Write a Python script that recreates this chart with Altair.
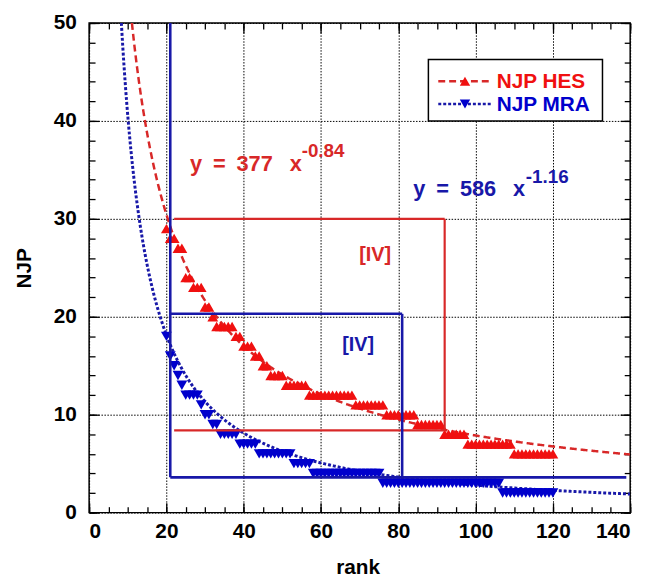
import altair as alt
import pandas as pd

# ---------------- data ----------------
ranks = list(range(20, 121))

hes_njp = [29, 28, 28, 27, 27, 24, 24, 23, 23, 23,
           21, 21, 20, 19, 19, 19, 19, 19, 18, 18,
           17, 17, 17, 16, 16, 15, 15, 14, 14, 14,
           14, 13, 13, 13, 13, 13, 13, 12, 12, 12,
           12, 12, 12, 12, 12, 12, 12, 12, 12, 11,
           11, 11, 11, 11, 11, 11, 11, 10, 10, 10,
           10, 10, 10, 10, 10, 9, 9, 9, 9, 9,
           9, 9, 8, 8, 8, 8, 8, 8, 7, 7,
           7, 7, 7, 7, 7, 7, 7, 7, 7, 7,
           6, 6, 6, 6, 6, 6, 6, 6, 6, 6,
           6]

mra_njp = [18, 16, 15, 14, 13, 12, 12, 12, 12, 11,
           10, 10, 9, 9, 8, 8, 8, 8, 8, 7,
           7, 7, 7, 7, 6, 6, 6, 6, 6, 6,
           6, 6, 6, 5, 5, 5, 5, 5, 4, 4,
           4, 4, 4, 4, 4, 4, 4, 4, 4, 4,
           4, 4, 4, 4, 4, 4, 3, 3, 3, 3,
           3, 3, 3, 3, 3, 3, 3, 3, 3, 3,
           3, 3, 3, 3, 3, 3, 3, 3, 3, 3,
           3, 3, 3, 3, 3, 3, 3, 2, 2, 2,
           2, 2, 2, 2, 2, 2, 2, 2, 2, 2,
           2]

# power-law fits printed on the chart: y = a * x^b
hes_fit = (377, -0.84)
mra_fit = (586, -1.16)
x_max = 140
y_max = 50

# threshold boxes (segments x1, y1, x2, y2)
red_x1 = [22, 92, 22]
red_y1 = [30, 30, 8.4]
red_x2 = [92, 92, 92]
red_y2 = [30, 8.4, 8.4]

blue_x1 = [21, 21, 21, 81]
blue_y1 = [50, 3.6, 20.3, 20.3]
blue_x2 = [21, 139, 81, 81]
blue_y2 = [3.6, 3.6, 20.3, 3.6]

x_major = list(range(0, 141, 20))
x_minor = list(range(0, 141, 5))
y_major = list(range(0, 51, 10))
y_minor = list(range(0, 51, 2))

legend_labels = ["NJP HES", "NJP MRA"]

# ---------------- frames ----------------
pts_hes = pd.DataFrame({"x": ranks, "y": hes_njp})
pts_mra = pd.DataFrame({"x": ranks, "y": mra_njp})


def fit_frame(a, b):
    x0 = (a / y_max) ** (1.0 / -b)
    xs = [x0] + [v / 4 for v in range(int(x0 * 4) + 1, x_max * 4 + 1)]
    return pd.DataFrame({"x": xs, "y": [a * v ** b for v in xs]})


fit_hes = fit_frame(*hes_fit)
fit_mra = fit_frame(*mra_fit)
seg_red = pd.DataFrame({"x": red_x1, "y": red_y1, "x2": red_x2, "y2": red_y2})
seg_blue = pd.DataFrame({"x": blue_x1, "y": blue_y1, "x2": blue_x2, "y2": blue_y2})

W, H = 547, 495
FONT = "Liberation Sans"
RED = "#f01010"
BLUE = "#0000cc"
RED_LINE = "#d82828"
BLUE_LINE = "#1818a8"
FS = 21

xs = alt.Scale(domain=[0, x_max], nice=False, zero=False)
ys = alt.Scale(domain=[0, y_max], nice=False, zero=False)

tick_common = dict(labels=False, domain=False, grid=False, ticks=True,
                   tickColor="black", tickWidth=1.3, title=None)

grid_common = dict(grid=True, gridColor="black", gridDash=[1.5, 1.5], gridWidth=1,
                   gridOpacity=1, ticks=False, tickSize=0, domain=False,
                   labelFont=FONT, labelFontSize=FS, labelFontWeight="bold",
                   labelColor="black", titleFont=FONT, titleFontSize=FS,
                   titleFontWeight="bold", titleColor="black", titleBaseline="middle")

ax_x_main = alt.Axis(orient="bottom", values=x_major, labelPadding=8, title="rank",
                     titleX=W / 2 - 2, titleY=56, **grid_common)
ax_y_main = alt.Axis(orient="left", values=y_major, labelPadding=13, title="NJP",
                     titleX=-65, titleY=H / 2, **grid_common)

ax_x_maj_b = alt.Axis(orient="bottom", values=x_major, offset=-10, tickSize=10, **tick_common)
ax_y_maj_l = alt.Axis(orient="left", values=y_major, offset=-10, tickSize=10, **tick_common)
ax_x_min_b = alt.Axis(orient="bottom", values=x_minor, offset=-6, tickSize=6, **tick_common)
ax_y_min_l = alt.Axis(orient="left", values=y_minor, offset=-6, tickSize=6, **tick_common)
ax_x_maj_t = alt.Axis(orient="top", values=x_major, offset=-10, tickSize=10, **tick_common)
ax_y_maj_r = alt.Axis(orient="right", values=y_major, offset=-10, tickSize=10, **tick_common)
ax_x_min_t = alt.Axis(orient="top", values=x_minor, offset=-6, tickSize=6, **tick_common)
ax_y_min_r = alt.Axis(orient="right", values=y_minor, offset=-6, tickSize=6, **tick_common)

fit_red = alt.Chart(fit_hes).mark_line(color=RED_LINE, strokeWidth=2.5, strokeDash=[7, 4],
                                      clip=True).encode(
    x=alt.X("x:Q", scale=xs, axis=ax_x_min_b),
    y=alt.Y("y:Q", scale=ys, axis=ax_y_min_l))

fit_blue = alt.Chart(fit_mra).mark_line(color=BLUE_LINE, strokeWidth=3, strokeDash=[3, 2],
                                       clip=True).encode(
    x=alt.X("x:Q", scale=xs, axis=ax_x_maj_t),
    y=alt.Y("y:Q", scale=ys, axis=ax_y_maj_r))

p_red = alt.Chart(pts_hes).mark_point(shape="triangle-up", filled=True, size=120,
                                      color=RED, opacity=1, strokeWidth=0).encode(
    x=alt.X("x:Q", scale=xs, axis=ax_x_main),
    y=alt.Y("y:Q", scale=ys, axis=ax_y_main))

p_blue = alt.Chart(pts_mra).mark_point(shape="triangle-down", filled=True, size=120,
                                       color=BLUE, opacity=1, strokeWidth=0).encode(
    x=alt.X("x:Q", scale=xs, axis=ax_x_maj_b),
    y=alt.Y("y:Q", scale=ys, axis=ax_y_maj_l))

r_red = alt.Chart(seg_red).mark_rule(color=RED_LINE, strokeWidth=2.2).encode(
    x=alt.X("x:Q", scale=xs, axis=ax_x_min_t),
    y=alt.Y("y:Q", scale=ys, axis=ax_y_min_r),
    x2="x2:Q", y2="y2:Q")

r_blue = alt.Chart(seg_blue).mark_rule(color=BLUE_LINE, strokeWidth=2.6).encode(
    x=alt.X("x:Q", scale=xs, axis=None),
    y=alt.Y("y:Q", scale=ys, axis=None),
    x2="x2:Q", y2="y2:Q")


def label(x, y, text, color, size, align="left", baseline="alphabetic"):
    return alt.Chart(pd.DataFrame({"x": [x], "y": [y], "t": [text]})).mark_text(
        font=FONT, fontWeight="bold", fontSize=size, color=color, align=align,
        baseline=baseline).encode(
        x=alt.X("x:Q", scale=xs, axis=None),
        y=alt.Y("y:Q", scale=ys, axis=None),
        text="t:N")


SP = "\u2002"      # en space
GAP = "\u2002\u00a0"
texts = [
    label(26.1, 34.9, f"y{SP}={SP}377{GAP}x", RED_LINE, 22),
    label(55.0, 36.3, "-0.84", RED_LINE, 19),
    label(83.9, 32.3, f"y{SP}={SP}586{GAP}x", BLUE_LINE, 22),
    label(113.0, 33.7, "-1.16", BLUE_LINE, 19),
    label(74.0, 26.3, "[IV]", RED_LINE, 20, align="center", baseline="middle"),
    label(69.6, 17.1, "[IV]", BLUE_LINE, 20, align="center", baseline="middle"),
]

# ---------------- legend ----------------
one = alt.Data(values=[{}])
LX0, LX1, LY0, LY1 = 343, 519, 37, 99
leg = [alt.Chart(one).mark_rect(fill="white", stroke="black", strokeWidth=1.5).encode(
    x=alt.value(LX0), x2=alt.value(LX1), y=alt.value(LY0), y2=alt.value(LY1))]
for i, (lab, col, lcol, dash, shp) in enumerate([
        (legend_labels[0], RED, RED_LINE, [7, 4], "triangle-up"),
        (legend_labels[1], BLUE, BLUE_LINE, [3, 2], "triangle-down")]):
    yy = 59 + 23 * i
    leg.append(alt.Chart(one).mark_rule(color=lcol, strokeWidth=2.5, strokeDash=dash).encode(
        x=alt.value(353), x2=alt.value(407), y=alt.value(yy)))
    leg.append(alt.Chart(one).mark_point(shape=shp, filled=True, size=110, color=col,
                                         opacity=1, strokeWidth=0).encode(
        x=alt.value(380), y=alt.value(yy)))
    leg.append(alt.Chart(one).mark_text(font=FONT, fontWeight="bold", fontSize=21, color=col,
                                        align="left", baseline="middle", text=lab).encode(
        x=alt.value(412), y=alt.value(yy + 1)))

chart = alt.layer(fit_red, fit_blue, p_red, p_blue, r_red, r_blue, *texts, *leg).resolve_axis(
    x="independent", y="independent"
).properties(
    width=W, height=H,
    autosize=alt.AutoSizeParams(type="none"),
    padding={"left": 82, "top": 12, "right": 16, "bottom": 68},
    background="white",
).configure_view(stroke="black", strokeWidth=1.5)

chart.save("out.html", embed_options={"renderer": "svg", "actions": False})
